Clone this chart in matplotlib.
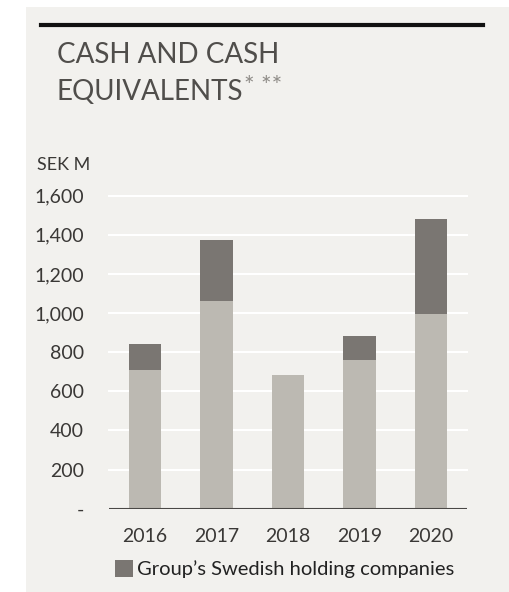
import matplotlib
matplotlib.use("Agg")
import matplotlib.pyplot as plt
from matplotlib.patches import Rectangle
from matplotlib.lines import Line2D
from matplotlib.ticker import FuncFormatter
import numpy as np

plt.rcParams['font.family'] = ['Lato', 'DejaVu Sans']

years = ['2016', '2017', '2018', '2019', '2020']
other_cash = [710, 1062, 683, 762, 995]
holding_cash = [132, 311, 0, 119, 484]
y_ticks = [0, 200, 400, 600, 800, 1000, 1200, 1400, 1600]

BG = '#f2f1ee'
LIGHT = '#bcb9b2'
DARK = '#7a7672'
TXT = '#3a3836'

fig = plt.figure(figsize=(5.10, 5.92), dpi=100)
fig.patch.set_facecolor('white')

# panel background and heavy rule on top
W, H = 510.0, 592.0
fig.add_artist(Rectangle((26 / W, 0), 1 - 26 / W, 1 - 7 / H,
                         transform=fig.transFigure, facecolor=BG, edgecolor='none', zorder=0))
fig.add_artist(Line2D([41 / W, 483 / W], [1 - 25 / H, 1 - 25 / H],
                      transform=fig.transFigure, color='#111111', linewidth=3.0))

fig.text(57 / W, 1 - 55 / H, 'CASH AND CASH', fontsize=20,
         color='#504e4b', va='center', ha='left')
eq = fig.text(57 / W, 1 - 92 / H, 'EQUIVALENTS', fontsize=20,
              color='#504e4b', va='center', ha='left')
# footnote marks placed just after the second title line
fig.canvas.draw()
eq_right = eq.get_window_extent().x1
fig.text((eq_right + 1) / W, 1 - 87 / H, '* **', fontsize=18, color='#8f8c88',
         va='center', ha='left')
fig.text(37 / W, 1 - 165 / H, 'SEK M', fontsize=13,
         color=TXT, va='center', ha='left')

ax = fig.add_axes([109 / W, 1 - 508.7 / H, 358 / W, 313 / H])
ax.set_facecolor(BG)
ax.patch.set_alpha(0)

x = np.arange(len(years))
ax.bar(x, other_cash, width=0.45, color=LIGHT, edgecolor='none', zorder=2)
holding = ax.bar(x, holding_cash, width=0.45, bottom=other_cash, color=DARK,
                 edgecolor='none', zorder=2,
                 label='Group\u2019s Swedish holding companies')

for t in y_ticks[1:]:
    ax.axhline(t, color='white', linewidth=1.5, zorder=1, clip_on=False)
ax.axhline(0, color='#4a4846', linewidth=1.5, zorder=3)

ax.set_xlim(-0.5, 4.5)
ax.set_ylim(0, 1600)
ax.set_xticks(x)
ax.set_xticklabels(years)
ax.set_yticks(y_ticks)
ax.yaxis.set_major_formatter(FuncFormatter(lambda v, p: '-' if v == 0 else f'{v:,.0f}'))
ax.tick_params(axis='both', length=0, labelsize=14, labelcolor=TXT)
ax.tick_params(axis='y', pad=18)
ax.tick_params(axis='x', pad=14)
for s in ax.spines.values():
    s.set_visible(False)

leg = fig.legend(handles=[holding], loc='center', bbox_to_anchor=(285 / W, 23 / H),
                 frameon=False, fontsize=14.5, handlelength=0.9, handleheight=0.9,
                 handletextpad=0.2, borderaxespad=0)
for t in leg.get_texts():
    t.set_color('#222222')

fig.savefig('out.png', dpi=100, facecolor=fig.get_facecolor())
